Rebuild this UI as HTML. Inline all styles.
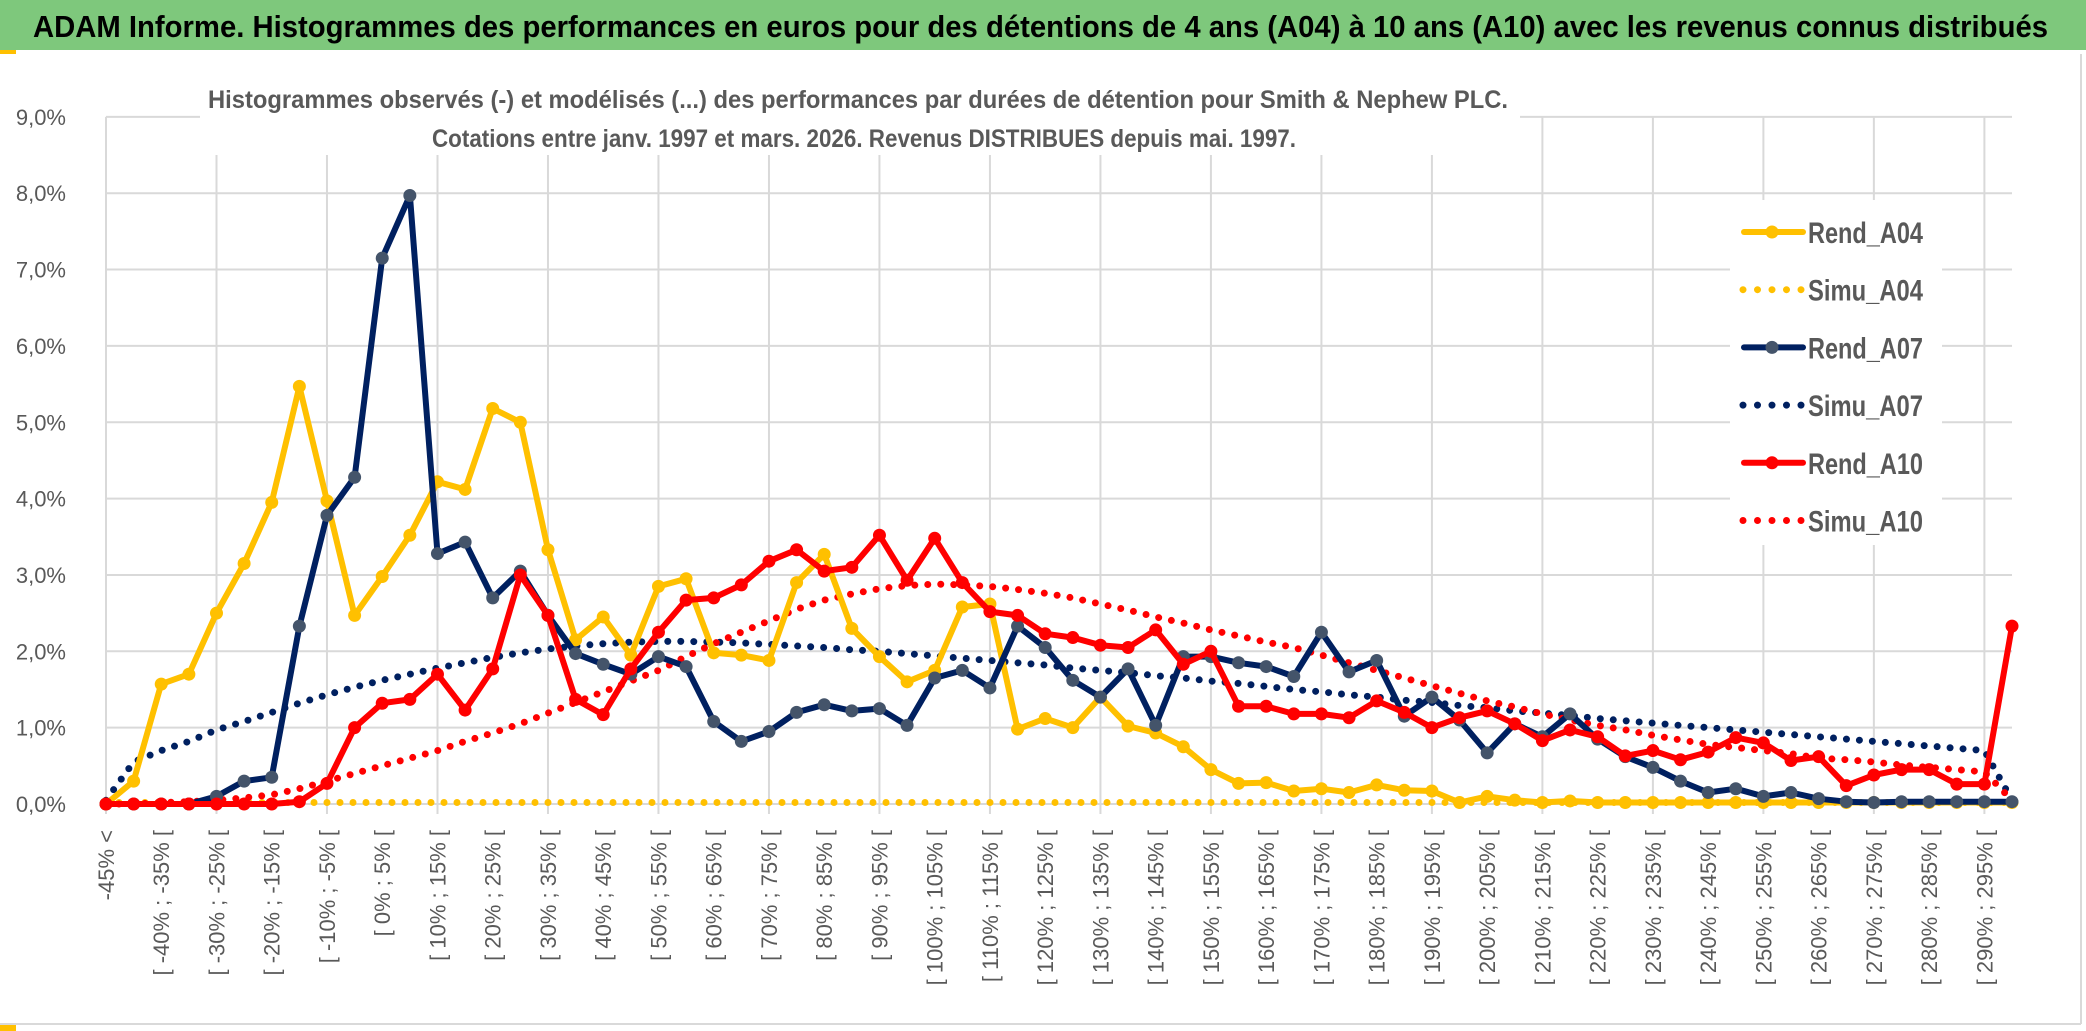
<!DOCTYPE html>
<html><head><meta charset="utf-8"><style>
html,body{margin:0;padding:0;background:#fff;}
svg{display:block;}
text{font-family:"Liberation Sans",sans-serif;}
</style></head><body>
<svg id="chart" width="2086" height="1031" viewBox="0 0 2086 1031" xmlns="http://www.w3.org/2000/svg">
<rect x="0" y="0" width="2086" height="50" fill="#7ec87c"/>
<text x="33" y="37" font-size="31" font-weight="bold" fill="#000" textLength="2015" lengthAdjust="spacingAndGlyphs">ADAM Informe. Histogrammes des performances en euros pour des détentions de 4 ans (A04) à 10 ans (A10) avec les revenus connus distribués</text>
<rect x="0" y="50" width="16" height="4" fill="#ffc000"/>
<line x1="2081" y1="54" x2="2081" y2="1024" stroke="#d9d9d9" stroke-width="2"/>
<line x1="0" y1="1024" x2="2081" y2="1024" stroke="#d9d9d9" stroke-width="2"/>
<rect x="0" y="1025" width="16" height="6" fill="#ffc000"/>
<g id="grid"></g>
<g id="yaxis"></g>
<g id="xaxis"></g>
<rect x="200" y="80" width="1320" height="75" fill="#fff"/>
<text x="858" y="108" font-size="25" font-weight="bold" fill="#595959" text-anchor="middle" textLength="1300" lengthAdjust="spacingAndGlyphs">Histogrammes observés (-) et modélisés (...) des performances par durées de détention pour Smith &amp; Nephew PLC.</text>
<text x="864" y="147" font-size="25" font-weight="bold" fill="#595959" text-anchor="middle" textLength="864" lengthAdjust="spacingAndGlyphs">Cotations entre janv. 1997 et mars. 2026. Revenus DISTRIBUES depuis mai. 1997.</text>
<g id="series"></g>
<rect x="1730" y="200" width="212" height="345" fill="#fff"/>
<g id="legend"></g>
</svg>
<script>
const categories = ["-45% <","[ -45% ; -40% [","[ -40% ; -35% [","[ -35% ; -30% [","[ -30% ; -25% [","[ -25% ; -20% [","[ -20% ; -15% [","[ -15% ; -10% [","[ -10% ; -5% [","[ -5% ; 0% [","[ 0% ; 5% [","[ 5% ; 10% [","[ 10% ; 15% [","[ 15% ; 20% [","[ 20% ; 25% [","[ 25% ; 30% [","[ 30% ; 35% [","[ 35% ; 40% [","[ 40% ; 45% [","[ 45% ; 50% [","[ 50% ; 55% [","[ 55% ; 60% [","[ 60% ; 65% [","[ 65% ; 70% [","[ 70% ; 75% [","[ 75% ; 80% [","[ 80% ; 85% [","[ 85% ; 90% [","[ 90% ; 95% [","[ 95% ; 100% [","[ 100% ; 105% [","[ 105% ; 110% [","[ 110% ; 115% [","[ 115% ; 120% [","[ 120% ; 125% [","[ 125% ; 130% [","[ 130% ; 135% [","[ 135% ; 140% [","[ 140% ; 145% [","[ 145% ; 150% [","[ 150% ; 155% [","[ 155% ; 160% [","[ 160% ; 165% [","[ 165% ; 170% [","[ 170% ; 175% [","[ 175% ; 180% [","[ 180% ; 185% [","[ 185% ; 190% [","[ 190% ; 195% [","[ 195% ; 200% [","[ 200% ; 205% [","[ 205% ; 210% [","[ 210% ; 215% [","[ 215% ; 220% [","[ 220% ; 225% [","[ 225% ; 230% [","[ 230% ; 235% [","[ 235% ; 240% [","[ 240% ; 245% [","[ 245% ; 250% [","[ 250% ; 255% [","[ 255% ; 260% [","[ 260% ; 265% [","[ 265% ; 270% [","[ 270% ; 275% [","[ 275% ; 280% [","[ 280% ; 285% [","[ 285% ; 290% [","[ 290% ; 295% [","[ 295% ; 300% ["];
const yTicks = [0,1,2,3,4,5,6,7,8,9];
const yTickLabels = ["0,0%","1,0%","2,0%","3,0%","4,0%","5,0%","6,0%","7,0%","8,0%","9,0%"];
const rendA04 = [0,0.3,1.57,1.7,2.5,3.15,3.95,5.47,3.97,2.47,2.98,3.52,4.22,4.12,5.18,5.0,3.33,2.15,2.45,1.95,2.85,2.95,1.98,1.95,1.88,2.9,3.27,2.3,1.93,1.6,1.75,2.58,2.62,0.98,1.12,1.0,1.4,1.02,0.93,0.75,0.45,0.27,0.28,0.17,0.2,0.15,0.25,0.18,0.17,0.02,0.1,0.05,0.02,0.04,0.02,0.02,0.02,0.02,0.02,0.02,0.02,0.02,0.02,0.02,0.02,0.02,0.02,0.02,0.02,0.02];
const simuA04 = [0.02,0.02,0.02,0.02,0.02,0.02,0.02,0.02,0.02,0.02,0.02,0.02,0.02,0.02,0.02,0.02,0.02,0.02,0.02,0.02,0.02,0.02,0.02,0.02,0.02,0.02,0.02,0.02,0.02,0.02,0.02,0.02,0.02,0.02,0.02,0.02,0.02,0.02,0.02,0.02,0.02,0.02,0.02,0.02,0.02,0.02,0.02,0.02,0.02,0.02,0.02,0.02,0.02,0.02,0.02,0.02,0.02,0.02,0.02,0.02,0.02,0.02,0.02,0.02,0.02,0.02,0.02,0.02,0.02,0.02];
const rendA07 = [0,0,0,0,0.1,0.3,0.35,2.33,3.78,4.28,7.15,7.97,3.28,3.43,2.7,3.05,2.47,1.97,1.83,1.7,1.93,1.8,1.08,0.82,0.95,1.2,1.3,1.22,1.25,1.03,1.65,1.75,1.52,2.33,2.05,1.62,1.4,1.77,1.03,1.93,1.93,1.85,1.8,1.67,2.25,1.73,1.88,1.15,1.4,1.1,0.67,1.05,0.88,1.18,0.85,0.62,0.48,0.3,0.15,0.2,0.1,0.15,0.07,0.03,0.02,0.03,0.03,0.03,0.03,0.03];
const simuA07 = [0.05,0.55,0.7,0.82,0.97,1.08,1.2,1.32,1.43,1.53,1.62,1.7,1.78,1.85,1.92,1.98,2.03,2.07,2.1,2.12,2.13,2.13,2.12,2.11,2.09,2.07,2.05,2.02,2.0,1.97,1.94,1.91,1.88,1.85,1.82,1.78,1.75,1.72,1.68,1.65,1.61,1.58,1.54,1.5,1.47,1.43,1.4,1.36,1.33,1.29,1.26,1.22,1.19,1.16,1.12,1.09,1.06,1.03,1.0,0.97,0.94,0.91,0.88,0.85,0.82,0.79,0.76,0.73,0.7,0.05];
const rendA10 = [0,0,0,0,0,0,0,0.03,0.27,1.0,1.32,1.37,1.7,1.23,1.77,3.0,2.47,1.37,1.17,1.77,2.25,2.67,2.7,2.87,3.18,3.33,3.05,3.1,3.52,2.93,3.48,2.9,2.52,2.47,2.23,2.18,2.08,2.05,2.28,1.83,2.0,1.28,1.28,1.18,1.18,1.13,1.35,1.2,1.0,1.13,1.22,1.05,0.83,0.97,0.88,0.63,0.7,0.58,0.68,0.87,0.8,0.57,0.62,0.24,0.38,0.45,0.45,0.26,0.26,2.33];
const simuA10 = [0,0,0.02,0.03,0.05,0.08,0.12,0.2,0.3,0.4,0.5,0.6,0.7,0.82,0.93,1.05,1.19,1.33,1.47,1.61,1.75,1.93,2.1,2.25,2.4,2.55,2.67,2.75,2.82,2.86,2.88,2.87,2.85,2.81,2.76,2.7,2.62,2.54,2.45,2.37,2.28,2.2,2.12,2.05,1.95,1.85,1.75,1.65,1.55,1.45,1.35,1.27,1.18,1.1,1.03,0.97,0.9,0.84,0.78,0.74,0.7,0.66,0.6,0.58,0.55,0.51,0.48,0.45,0.42,0.05];

const NS='http://www.w3.org/2000/svg';
const plotL=106, plotR=2012, y0=804, pxPerPct=76.35;
const xScale = i => plotL + i*(plotR-plotL)/(categories.length-1);
const yScale = v => y0 - v*pxPerPct;
function mk(tag, attrs, parent){const e=document.createElementNS(NS,tag);for(const k in attrs)e.setAttribute(k,attrs[k]);parent.appendChild(e);return e;}

const grid=document.getElementById('grid');
yTicks.forEach((t,k)=>{
  const l=mk('line',{x1:plotL,x2:plotR,y1:yScale(t),y2:yScale(t),stroke:'#d9d9d9','stroke-width':2},grid);
  
  
});
categories.forEach((c,i)=>{
  if(i%4===0){
    const l=mk('line',{x1:xScale(i),x2:xScale(i),y1:yScale(yTicks[yTicks.length-1]),y2:y0+10,stroke:'#d9d9d9','stroke-width':2},grid);
    
    
  }
});
const ya=document.getElementById('yaxis');
yTicks.forEach((t,k)=>{
  const tx=mk('text',{x:66,y:yScale(t)+8,'font-size':22,fill:'#595959','text-anchor':'end'},ya);
  tx.textContent=yTickLabels[k];
  
  
});
const xa=document.getElementById('xaxis');
categories.forEach((c,i)=>{
  if(i%2!==0)return;
  const x=xScale(i);
  const tx=mk('text',{x:0,y:0,'font-size':22,fill:'#595959','text-anchor':'end',transform:`translate(${x+8},830) rotate(-90)`},xa);
  tx.textContent=c;
  
  
});

const ser=document.getElementById('series');
function pts(arr){return arr.map((v,i)=>xScale(i).toFixed(1)+','+yScale(v).toFixed(1)).join(' ');}
function dotted(arr,color,name){
  const p=mk('polyline',{points:pts(arr),fill:'none',stroke:color,'stroke-width':7,'stroke-linecap':'round','stroke-dasharray':'0 13'},ser);
  
  
}
function solid(arr,color,mcolor,name){
  const g=mk('g',{},ser);
  
  
  mk('polyline',{points:pts(arr),fill:'none',stroke:color,'stroke-width':6,'stroke-linejoin':'round'},g);
  arr.forEach((v,i)=>{
    const c=mk('circle',{cx:xScale(i),cy:yScale(v),r:6.5,fill:mcolor},g);
    
    
  });
}
dotted(simuA04,'#ffc000','simu-a04-line');
dotted(simuA07,'#002060','simu-a07-line');
dotted(simuA10,'#ff0000','simu-a10-line');
solid(rendA04,'#ffc000','#ffc000','rend-a04-line');
solid(rendA07,'#002060','#44546a','rend-a07-line');
solid(rendA10,'#ff0000','#ff0000','rend-a10-line');

const lg=document.getElementById('legend');
const legendItems=[['Rend_A04','#ffc000','#ffc000',false],['Simu_A04','#ffc000','',true],['Rend_A07','#002060','#44546a',false],['Simu_A07','#002060','',true],['Rend_A10','#ff0000','#ff0000',false],['Simu_A10','#ff0000','',true]];
legendItems.forEach((it,k)=>{
  const y=232+k*57.7;
  const g=mk('g',{},lg);
  
  
  if(it[3]){
    mk('line',{x1:1743,x2:1805,y1:y,y2:y,stroke:it[1],'stroke-width':7,'stroke-linecap':'round','stroke-dasharray':'0 14.5'},g);
  } else {
    mk('line',{x1:1744,x2:1803,y1:y,y2:y,stroke:it[1],'stroke-width':6,'stroke-linecap':'round'},g);
    mk('circle',{cx:1772,cy:y,r:6.5,fill:it[2]},g);
  }
  const t=mk('text',{x:1808,y:y+11,'font-size':30,'font-weight':'bold',fill:'#595959',textLength:115,lengthAdjust:'spacingAndGlyphs'},g);
  t.textContent=it[0];
});
</script>
</body></html>
